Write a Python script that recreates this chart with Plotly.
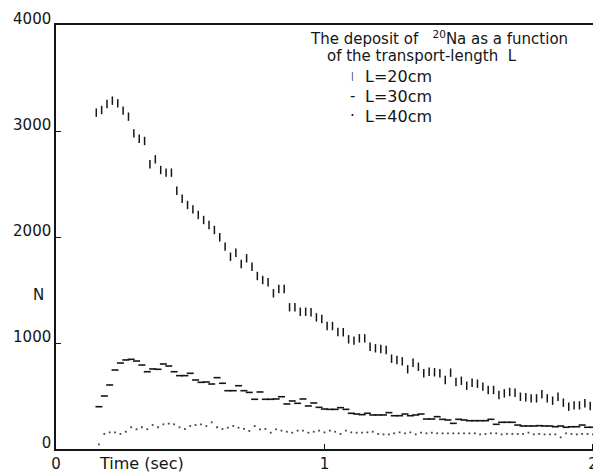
import plotly.graph_objects as go

# ---- data ----
t20_start, t30_start, t40_start, dt = 0.15, 0.16, 0.16, 0.02

n20 = [3173, 3198, 3255, 3286, 3261, 3192, 3135, 2978, 2927, 2906,
       2686, 2733, 2632, 2607, 2607, 2437, 2361, 2302, 2261, 2208,
       2160, 2113, 2066, 1997, 1909, 1814, 1852, 1745, 1799, 1720,
       1632, 1594, 1573, 1469, 1509, 1509, 1337, 1337, 1295, 1295,
       1290, 1242, 1226, 1160, 1160, 1104, 1101, 1035, 1022, 1044,
       1044, 965, 950, 943, 934, 852, 840, 827, 752, 814,
       776, 714, 729, 724, 714, 651, 720, 632, 644, 597,
       625, 616, 588, 557, 557, 509, 525, 538, 531, 493,
       488, 478, 478, 516, 478, 456, 493, 437, 399, 412,
       412, 431, 406]

n30 = [399, 500, 604, 745, 811, 840, 846, 830, 792, 729,
       755, 752, 802, 783, 729, 692, 692, 714, 651, 629,
       632, 613, 673, 620, 550, 550, 597, 550, 534, 469,
       538, 469, 469, 472, 493, 425, 453, 431, 472, 406,
       434, 393,
       377, 374, 374, 390, 374, 337, 330, 324, 337, 321,
       321, 321, 343, 314, 314, 330, 314, 321, 330, 283,
       283, 305, 280, 274, 242, 280, 274, 267, 267, 267,
       267, 280, 233, 252, 252, 252, 226, 217, 217, 217,
       220, 217, 217, 210, 217, 205, 210, 210, 226, 205,
       205]

n40 = [44, 142, 157, 157, 142, 163, 205, 186, 205, 186,
       226, 205, 233, 239, 233, 205, 189, 217, 226, 233,
       217, 252, 205, 189, 201, 217, 201, 189, 170, 217,
       186, 189, 154, 186, 173, 163, 154, 173, 173, 154,
       163, 173,
       157, 173, 163, 142, 173, 157, 154, 154, 157, 163,
       142, 138, 138, 148, 157, 148, 157, 138, 154, 148,
       154, 148, 148, 148, 148, 148, 148, 148, 148, 138,
       142, 148, 148, 138, 142, 142, 142, 142, 154, 138,
       142, 138, 138, 138, 110, 148, 142, 138, 142, 142,
       138]

t20 = [round(t20_start + dt * i, 3) for i in range(len(n20))]
t30 = [round(t30_start + dt * i, 3) for i in range(len(n30))]
t40 = [round(t40_start + dt * i, 3) for i in range(len(n40))]

x_ticks = [0, 1, 2]
y_ticks = [0, 1000, 2000, 3000, 4000]
labels = ["L=20cm", "L=30cm", "L=40cm"]
legend_glyphs = ["|", "-", "\u00b7"]

# ---- figure ----
OFF = 8                       # page body margin in the browser
WIN_W, WIN_H = 601, 472
W, H = WIN_W - OFF, WIN_H - OFF
# plot area in window pixels: x 56..598, y 25..449
ML, MR, MT, MB = 56 - OFF, WIN_W - 598, 25 - OFF, WIN_H - 449
PW, PH = W - ML - MR, H - MT - MB
ink = "#151515"
FONT = "DejaVu Sans"


def px(xw):
    return (xw - OFF - ML) / PW


def py(yw):
    return (H - MB - (yw - OFF)) / PH


fig = go.Figure()
fig.add_trace(go.Scatter(x=t20, y=n20, mode="markers", name=labels[0],
                         marker=dict(symbol="line-ns", size=6, color=ink,
                                     line=dict(width=1.5, color=ink))))
fig.add_trace(go.Scatter(x=t30, y=n30, mode="markers", name=labels[1],
                         marker=dict(symbol="line-ew", size=5, color=ink,
                                     line=dict(width=1.6, color=ink))))
fig.add_trace(go.Scatter(x=t40, y=n40, mode="markers", name=labels[2],
                         marker=dict(symbol="square", size=1.8, color="#444",
                                     line=dict(width=0))))

axis_common = dict(showline=True, linecolor=ink, linewidth=1.5, mirror=True,
                   showgrid=False, zeroline=False, ticks="inside", ticklen=5,
                   tickcolor=ink, tickwidth=1.2, automargin=False,
                   tickfont=dict(family=FONT, size=15, color=ink))

annotations = [
    dict(text="The deposit of   <sup>20</sup>Na as a function",
         x=px(308), y=py(38), xanchor="left"),
    dict(text="of the transport-length  L", x=px(325), y=py(56), xanchor="left"),
    dict(text="N", x=px(38), y=py(295), xanchor="center"),
    dict(text="Time (sec)", x=px(97), y=py(463), xanchor="left", size=16),
]
row_y = [77, 96, 116]
glyph_sizes = [8, 15, 15]
for lab, g, gs, ry in zip(labels, legend_glyphs, glyph_sizes, row_y):
    annotations.append(dict(text=g, x=px(352), y=py(ry), xanchor="center",
                            size=gs))
    annotations.append(dict(text=lab, x=px(363), y=py(ry), xanchor="left",
                            size=16))

ann_objs = []
for a in annotations:
    ann_objs.append(dict(text=a["text"], x=a["x"], y=a["y"], xref="paper",
                         yref="paper", xanchor=a["xanchor"], yanchor="middle",
                         showarrow=False,
                         font=dict(family=FONT, size=a.get("size", 15),
                                   color=ink)))

fig.update_layout(
    width=W, height=H,
    margin=dict(l=ML, r=MR, t=MT, b=MB, pad=0, autoexpand=False),
    paper_bgcolor="white", plot_bgcolor="white",
    font=dict(family=FONT, size=15, color=ink),
    xaxis=dict(range=[0, 2.019], tickvals=x_ticks,
               ticktext=[str(v) for v in x_ticks], **axis_common),
    yaxis=dict(range=[0, 4000], tickvals=y_ticks,
               ticktext=[str(v) for v in y_ticks], ticklabelshift=-6,
               **axis_common),
    showlegend=False,
    annotations=ann_objs,
)

fig.write_html("out.html")
